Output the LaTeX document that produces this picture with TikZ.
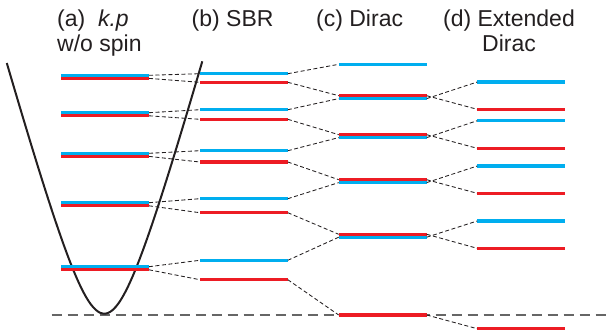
\documentclass[tikz,border=0pt]{standalone}
\usepackage{fontspec}
\setmainfont{Liberation Sans}
\usetikzlibrary{calc}
\definecolor{spinblue}{HTML}{00AEEF}
\definecolor{spinred}{HTML}{ED1C24}
\definecolor{ink}{HTML}{231F20}

\begin{document}
\begin{tikzpicture}[x=1pt,y=-1pt,
  level/.style={minimum width=88pt,minimum height=3.2pt,inner sep=0pt,outer sep=0pt},
  bl/.style={level,fill=spinblue},
  rd/.style={level,fill=spinred},
  link/.style={ink,line width=0.85pt,dash pattern=on 4pt off 2.5pt},
  title/.style={ink,inner sep=0pt,font=\fontsize{23}{24.5}\selectfont}]
  \useasboundingbox (0,0) rectangle (606,332);

  % zero line and dispersion
  \coordinate (z-l) at (51.7,315);
  \coordinate (z-r) at (606,315);
  \draw[gray!80!black,line width=1.2pt,dash pattern=on 10pt off 6pt] (z-l) -- (z-r);
  \draw[ink,line width=2pt] plot[domain=-9.75:9.8,samples=80,smooth]
    ({104.3+10*\x},{313.7-(100*sqrt(1.4593+0.1298*\x*\x)-120.8)});

  % (a) k.p w/o spin
  \foreach \i/\y in {1/75.3,2/112.7,3/153.3,4/202.7,5/266.7}{
    \node[rd] (a\i-r) at (105,\y+3.1) {};
    \node[bl] (a\i-b) at (105,\y) {};
  }
  % (b) SBR
  \foreach \i/\yb/\yr in {1/73.7/82.3,2/109.7/119.3,3/150.7/162,4/198.7/212.7,5/260.3/279.7}{
    \node[bl] (b\i-b) at (243.8,\yb) {};
    \node[rd] (b\i-r) at (243.8,\yr) {};
  }
  % (c) Dirac
  \node[bl] (c0-b) at (382.7,64.3) {};
  \foreach \i/\y in {1/95.7,2/134.7,3/179.7,4/234.3}{
    \node[bl] (c\i-b) at (382.7,\y+2.9) {};
    \node[rd] (c\i-r) at (382.7,\y) {};
  }
  \node[rd] (c5-r) at (382.7,315) {};
  % (d) Extended Dirac
  \foreach \i/\yb/\yr in {1/82/109.3,2/120.7/148.3,3/166/193.3,4/221/248.3}{
    \node[bl] (d\i-b) at (521.2,\yb) {};
    \node[rd] (d\i-r) at (521.2,\yr) {};
  }
  \node[rd] (d5-r) at (521.2,328.7) {};

  \foreach \i in {1,...,5}{
    \draw[link] (a\i-b.east) -- (b\i-b.west);
    \draw[link] (a\i-r.east) -- (b\i-r.west);
  }
  \draw[link] (b1-b.east) -- (c0-b.west);
  \foreach \i [evaluate=\i as \j using int(\i+1)] in {1,...,4}{
    \draw[link] (b\i-r.east) -- (c\i-r.west);
    \draw[link] (b\j-b.east) -- (c\i-b.west);
    \draw[link] (c\i-r.east) -- (d\i-r.west);
    \draw[link] (c\i-b.east) -- (d\i-b.west);
  }
  \draw[link] (b5-r.east) -- (c5-r.west);
  \draw[link] (c5-r.east) -- (d5-r.west);

  \node[title,anchor=north west,align=left] (ta) at (57,10) {(a)\ \ \textit{k.p}\\w/o spin};
  \node[title,anchor=base west] (tb) at (191.5,26.7) {(b) SBR};
  \node[title,anchor=base west] (tc) at (316,26.7) {(c) Dirac};
  \node[title,anchor=north,align=center] (td) at (509,10) {(d) Extended\\Dirac};
\end{tikzpicture}
\end{document}
